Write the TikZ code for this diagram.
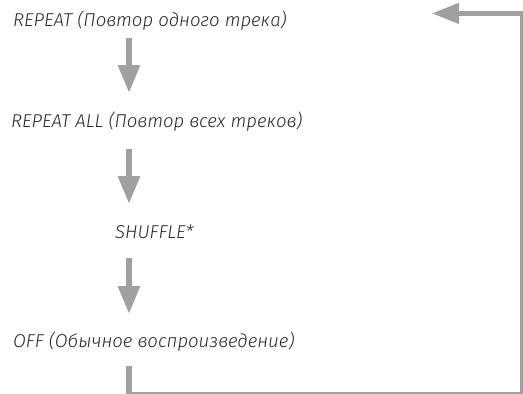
\documentclass[tikz,border=0pt]{standalone}
\usepackage{fontspec}
\setmainfont{Fira Sans}[ItalicFont={Fira Sans Light Italic}]
\usetikzlibrary{arrows.meta,positioning,calc}
\definecolor{loopgray}{RGB}{160,160,160}

\begin{document}
\begin{tikzpicture}[
    x=1pt, y=-1pt,
    mode/.style={anchor=base west, inner sep=0pt, font=\fontsize{18.6}{22}\selectfont\itshape, text=black!85},
    flow/.style={-{Triangle[length=28pt,width=21pt]}, line width=6pt, draw=loopgray},
    back/.style={-{Triangle[length=27pt,width=20pt]}, line width=4.5pt, draw=loopgray},
    wire/.style={line width=2.2pt, draw=loopgray, line join=miter}
]
\useasboundingbox (0,0) rectangle (523,394);

% Modes
\node[mode] (rep) at (13,26) {REPEAT (Повтор одного трека)};
\node[mode] (all) at (11,127) {REPEAT ALL (Повтор всех треков)};
\node[mode] (shuf) at (115,238) {SHUFFLE*};
\node[mode] (off) at (13,347) {OFF (Обычное воспроизведение)};

% Arrow axis and loop corners
\coordinate (ax) at (129,0);
\coordinate (bl) at (129,392.8);
\coordinate (br) at (521.5,392.8);
\coordinate (tr) at (521.5,13.4);
\coordinate (ret) at (432,13.4);

% Arrows
\draw[flow] ($(rep.base -| ax)+(0,12)$) -- ($(all.base -| ax)+(0,-34)$);
\draw[flow] ($(all.base -| ax)+(0,22)$) -- ($(shuf.base -| ax)+(0,-34)$);
\draw[flow] ($(shuf.base -| ax)+(0,20)$) -- ($(off.base -| ax)+(0,-33)$);

% Loop back
\draw[loopgray, line width=6pt] ($(off.base -| ax)+(0,19)$) -- ($(bl)+(0,1.2)$);
\draw[wire] ($(bl)+(-3,0)$) -- (br) -- ($(tr)+(0,-1)$);
\draw[back] ($(tr)+(1.1,0)$) -- (ret);

\end{tikzpicture}
\end{document}
